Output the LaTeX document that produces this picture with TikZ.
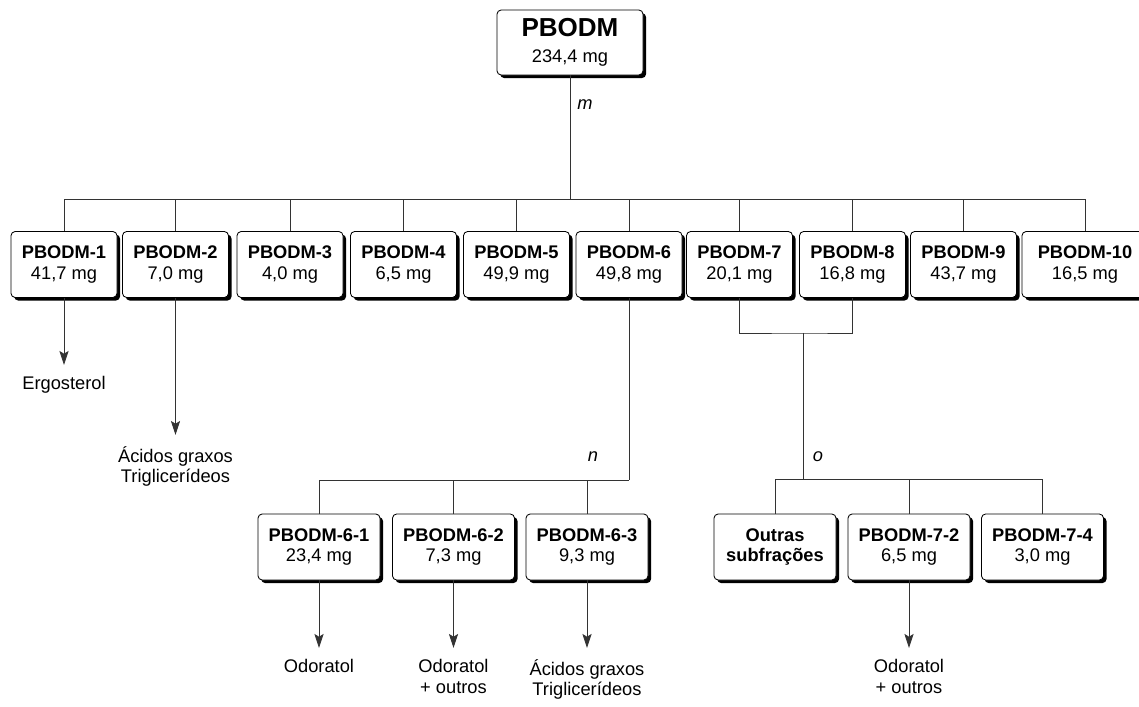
\documentclass[tikz,border=0pt]{standalone}
\usepackage{fontspec}
\setmainfont{Liberation Sans}
\usetikzlibrary{positioning, arrows.meta, shadows}

\begin{document}
\begin{tikzpicture}[
    x=0.025cm, y=-0.025cm,
    >={Stealth[length=10pt, width=6.5pt, inset=2pt]},
    box/.style={
        draw, rounded corners=3pt, line width=0.6pt, fill=white,
        drop shadow={shadow xshift=2.2pt, shadow yshift=-2.2pt,
                     fill=black, opacity=1},
        minimum width=2.65cm, minimum height=1.65cm, align=center,
        font=\fontsize{13}{14.5}\selectfont, inner sep=1pt},
    sub/.style={box, minimum width=3.05cm},
    link/.style={line width=0.6pt, black!80},
    arr/.style={->, line width=0.6pt, black!80},
    lbl/.style={font=\fontsize{13}{14.5}\selectfont\itshape},
    endlbl/.style={font=\fontsize{13}{14.5}\selectfont, align=center,
                   inner ysep=8pt, inner xsep=1pt},
]
\useasboundingbox (0,0) rectangle (1139,707);

% ============================ crude extract =============================
\node[box, minimum width=3.65cm, minimum height=1.625cm] (top) at (570,42.5)
  {\textbf{\fontsize{18.5}{20}\selectfont PBODM}\\[4pt]234,4 mg};

% ============================ fractions (m) =============================
\node[box] (p1) at (64,264.5)    {\textbf{PBODM-1}\\41,7 mg};
\node[box] (p2) at (175.5,264.5) {\textbf{PBODM-2}\\7,0 mg};
\node[box] (p3) at (290,264.5)   {\textbf{PBODM-3}\\4,0 mg};
\node[box] (p4) at (403.5,264.5) {\textbf{PBODM-4}\\6,5 mg};
\node[box] (p5) at (516.5,264.5) {\textbf{PBODM-5}\\49,9 mg};
\node[box] (p6) at (629,264.5)   {\textbf{PBODM-6}\\49,8 mg};
\node[box] (p7) at (739.5,264.5) {\textbf{PBODM-7}\\20,1 mg};
\node[box] (p8) at (852.5,264.5) {\textbf{PBODM-8}\\16,8 mg};
\node[box] (p9) at (963.5,264.5) {\textbf{PBODM-9}\\43,7 mg};
\node[box, minimum width=3.15cm] (p10) at (1085,264.5) {\textbf{PBODM-10}\\16,5 mg};

\coordinate (mbar) at (570,199);
\draw[link] (top.south) -- (mbar);
\node[lbl] (mlab) at (585,105) {m};
\foreach \i in {1,...,10}
  \draw[link] (p\i.north) |- (mbar);

% ============================ subfractions of PBODM-6 (n) ===============
\node[sub] (s61) at (319,547)   {\textbf{PBODM-6-1}\\23,4 mg};
\node[sub] (s62) at (453.5,547) {\textbf{PBODM-6-2}\\7,3 mg};
\node[sub] (s63) at (587,547)   {\textbf{PBODM-6-3}\\9,3 mg};

\coordinate (nbar) at (629,480);
\draw[link] (p6.south) -- (nbar);
\node[lbl] (nlab) at (593,457) {n};
\foreach \s in {s61,s62,s63}
  \draw[link] (\s.north) |- (nbar);

% ============================ subfractions of PBODM-7/8 (o) =============
\node[sub] (s71) at (775,547)    {\textbf{Outras}\\\textbf{subfrações}};
\node[sub] (s72) at (909,547)    {\textbf{PBODM-7-2}\\6,5 mg};
\node[sub] (s74) at (1042.5,547) {\textbf{PBODM-7-4}\\3,0 mg};

\coordinate (join78) at (803,333);
\coordinate (obar) at (803,479);
\draw[link] (p7.south) |- (join78) -| (p8.south);
\draw[link] (join78) -- (obar);
\node[lbl] (olab) at (818,457) {o};
\foreach \s in {s71,s72,s74}
  \draw[link] (\s.north) |- (obar);

% ============================ compounds =================================
\node[endlbl, anchor=north] (ergo) at (64,365) {Ergosterol};
\node[endlbl, anchor=north] (acid2) at (175.5,435) {Ácidos graxos\\Triglicerídeos};
\node[endlbl, anchor=north] (odo61) at (319,648) {Odoratol};
\node[endlbl, anchor=north] (odo62) at (453.5,648) {Odoratol\\+ outros};
\node[endlbl, anchor=north] (acid63) at (587,648) {Ácidos graxos\\Triglicerídeos};
\node[endlbl, anchor=north] (odo72) at (909,648) {Odoratol\\+ outros};

\draw[arr] (p1.south) -- (ergo.north);
\draw[arr] (p2.south) -- (acid2.north);
\draw[arr] (s61.south) -- (odo61.north);
\draw[arr] (s62.south) -- (odo62.north);
\draw[arr] (s63.south) -- (acid63.north);
\draw[arr] (s72.south) -- (odo72.north);

\end{tikzpicture}
\end{document}
